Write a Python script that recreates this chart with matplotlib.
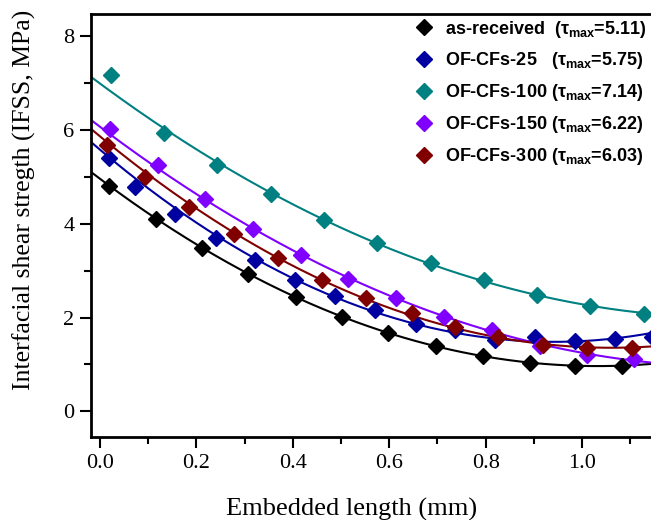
import numpy as np
import matplotlib
matplotlib.use("Agg")
import matplotlib.pyplot as plt
from matplotlib.ticker import MultipleLocator

plt.rcParams['font.family'] = ['Liberation Serif', 'DejaVu Serif']
plt.rcParams['mathtext.fontset'] = 'custom'
plt.rcParams['mathtext.rm'] = 'Liberation Sans:bold'

# ---- data ----
series_names = ["as-received", "OF-CFs-25", "OF-CFs-100", "OF-CFs-150", "OF-CFs-300"]
tau_max = [5.11, 5.75, 7.14, 6.22, 6.03]
colors = ["#000000", "#0000A0", "#008080", "#8000FF", "#800000"]

black_x = [0.019, 0.116, 0.212, 0.308, 0.407, 0.503, 0.598, 0.697, 0.794, 0.891, 0.985, 1.082]
black_y = [4.81, 4.10, 3.48, 2.94, 2.43, 2.02, 1.66, 1.40, 1.18, 1.04, 0.97, 0.97]

blue_x = [0.019, 0.073, 0.156, 0.241, 0.322, 0.405, 0.488, 0.571, 0.656, 0.737, 0.820, 0.902, 0.985, 1.068, 1.145]
blue_y = [5.41, 4.79, 4.22, 3.69, 3.23, 2.81, 2.46, 2.16, 1.87, 1.73, 1.53, 1.58, 1.51, 1.54, 1.59]

teal_x = [0.022, 0.133, 0.243, 0.354, 0.465, 0.574, 0.686, 0.797, 0.907, 1.017, 1.129]
teal_y = [7.17, 5.93, 5.26, 4.64, 4.08, 3.60, 3.17, 2.80, 2.49, 2.25, 2.07]

purple_x = [0.021, 0.120, 0.218, 0.318, 0.416, 0.515, 0.614, 0.714, 0.813, 0.913, 1.011, 1.108]
purple_y = [6.03, 5.26, 4.54, 3.90, 3.33, 2.82, 2.41, 2.02, 1.73, 1.39, 1.21, 1.12]

maroon_x = [0.015, 0.093, 0.185, 0.278, 0.370, 0.460, 0.552, 0.647, 0.737, 0.826, 0.919, 1.010, 1.103]
maroon_y = [5.68, 5.01, 4.37, 3.79, 3.28, 2.80, 2.41, 2.09, 1.80, 1.59, 1.42, 1.36, 1.34]

xs = [black_x, blue_x, teal_x, purple_x, maroon_x]
ys = [black_y, blue_y, teal_y, purple_y, maroon_y]

FIT_X0 = -0.019  # fitted curves start at tau_max here

# ---- figure ----
W, H = 651, 520
fig = plt.figure(figsize=(W / 100, H / 100), dpi=100)
ax = fig.add_axes([91 / W, 83 / H, (W - 91) / W, (437 - 14) / H])

XMIN, XMAX = -0.0187, 1.143
ax.set_xlim(XMIN, XMAX)
ax.set_ylim(-0.55, 8.48)

xx = np.linspace(XMIN, XMAX + 0.05, 300)
handles = []
for x, y, t, c, name in zip(xs, ys, tau_max, colors, series_names):
    x = np.asarray(x); y = np.asarray(y)
    u = x - FIT_X0
    A = np.column_stack([u, u ** 2])
    coef, *_ = np.linalg.lstsq(A, y - t, rcond=None)
    uu = xx - FIT_X0
    ax.plot(xx, t + coef[0] * uu + coef[1] * uu ** 2, color=c, lw=1.5, zorder=2)
    h, = ax.plot(x, y, ls='none', marker='D', ms=8.5, color=c, mec=c, zorder=3)
    handles.append(h)

labels = [
    r"as-received  ($\mathregular{\tau_{max}}$=5.11)",
    r"OF-CFs-25   ($\mathregular{\tau_{max}}$=5.75)",
    r"OF-CFs-100 ($\mathregular{\tau_{max}}$=7.14)",
    r"OF-CFs-150 ($\mathregular{\tau_{max}}$=6.22)",
    r"OF-CFs-300 ($\mathregular{\tau_{max}}$=6.03)",
]
leg = ax.legend(handles, labels, loc='upper right', frameon=False,
                prop={'family': 'Liberation Sans', 'weight': 'bold', 'size': 13},
                handlelength=1.0, handletextpad=0.65, labelspacing=0.6,
                borderaxespad=0.0, borderpad=0.25)

for s in ['left', 'bottom', 'top']:
    ax.spines[s].set_linewidth(2)
ax.spines['right'].set_visible(False)

ax.xaxis.set_major_locator(MultipleLocator(0.2))
ax.xaxis.set_minor_locator(MultipleLocator(0.1))
ax.yaxis.set_major_locator(MultipleLocator(2))
ax.yaxis.set_minor_locator(MultipleLocator(1))
ax.tick_params(which='major', direction='out', length=8, width=1.5, labelsize=16,
               top=False, right=False, pad=4)
ax.tick_params(which='minor', direction='out', length=5, width=1.5, top=False, right=False)
ax.xaxis.set_major_formatter(matplotlib.ticker.FormatStrFormatter('%.1f'))

ax.set_xlabel("Embedded length (mm)", fontsize=19)
ax.set_ylabel("Interfacial shear stregth (IFSS, MPa)", fontsize=18.5)
ax.xaxis.set_label_coords(0.466, -0.145)
ax.yaxis.set_label_coords(-0.098, 0.56)

fig.savefig("out.png", dpi=100)
